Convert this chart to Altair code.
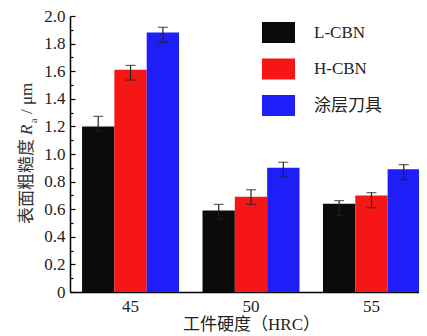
import altair as alt
import pandas as pd

hardness = ["45", "50", "55"]
tools = ["L-CBN", "H-CBN", "涂层刀具"]
l_cbn = [1.20, 0.59, 0.64]
h_cbn = [1.61, 0.69, 0.70]
coated = [1.88, 0.90, 0.89]
l_lo = [1.165, 0.529, 0.556]
l_hi = [1.273, 0.635, 0.662]
h_lo = [1.536, 0.635, 0.611]
h_hi = [1.642, 0.741, 0.720]
c_lo = [1.809, 0.833, 0.814]
c_hi = [1.918, 0.940, 0.923]
colors = ["#0b0b0b", "#f71616", "#1e1ef8"]
y_major = [0.0, 0.2, 0.4, 0.6, 0.8, 1.0, 1.2, 1.4, 1.6, 1.8, 2.0]
y_minor = [0.1, 0.3, 0.5, 0.7, 0.9, 1.1, 1.3, 1.5, 1.7, 1.9]

rows = []
for tool, vals, los, his in [
    (tools[0], l_cbn, l_lo, l_hi),
    (tools[1], h_cbn, h_lo, h_hi),
    (tools[2], coated, c_lo, c_hi),
]:
    for h, v, lo, hi in zip(hardness, vals, los, his):
        rows.append({"hardness": h, "tool": tool, "value": v, "lo": lo, "hi": hi})
df = pd.DataFrame(rows)

SERIF = "Liberation Serif, Noto Sans CJK SC"
W, H = 349, 276

x_enc = alt.X(
    "hardness:N",
    sort=hardness,
    scale=alt.Scale(range=[0, 362], paddingInner=0.195, paddingOuter=0.1),
    axis=alt.Axis(
        title="工件硬度（HRC）",
        labelAngle=0,
        ticks=False,
        tickSize=0,
        domainColor="black",
        domainWidth=1.5,
        labelFont=SERIF,
        labelFontSize=17,
        labelColor="#222",
        labelPadding=6,
        titleFont=SERIF,
        titleFontSize=17,
        titleFontWeight="normal",
        titleColor="#222",
        titlePadding=2,
    ),
)
xo_enc = alt.XOffset("tool:N", sort=tools, scale=alt.Scale(paddingInner=0, paddingOuter=0))

base = alt.Chart(df)

bars = base.mark_bar().encode(
    x=x_enc,
    xOffset=xo_enc,
    y=alt.Y(
        "value:Q",
        scale=alt.Scale(domain=[0, 2], nice=False),
        axis=alt.Axis(
            values=y_major,
            ticks=False,
            tickSize=0,
            grid=False,
            title=None,
            domainColor="black",
            domainWidth=1.5,
            labelFont=SERIF,
            labelFontSize=17,
            labelColor="#222",
            labelPadding=5,
            labelExpr="datum.value == 0 ? '0' : format(datum.value, '.1f')",
        ),
    ),
    color=alt.Color(
        "tool:N",
        sort=tools,
        scale=alt.Scale(domain=tools, range=colors),
        legend=alt.Legend(
            title=None,
            orient="none",
            legendX=192,
            legendY=0,
            symbolType="M-1,-0.64H1V0.64H-1Z",
            symbolSize=1089,
            symbolStrokeWidth=0,
            symbolOpacity=1,
            labelFont=SERIF,
            labelFontSize=17,
            labelColor="#222",
            labelOffset=19,
            rowPadding=8.5,
            padding=0,
        ),
    ),
)

err = base.mark_rule(color="#222", strokeWidth=1.2).encode(
    x=x_enc,
    xOffset=xo_enc,
    y=alt.Y(
        "lo:Q",
        scale=alt.Scale(domain=[0, 2], nice=False),
        axis=alt.Axis(
            orient="right",
            offset=-W,
            values=y_major,
            tickSize=5,
            tickWidth=1.2,
            tickColor="black",
            labels=False,
            domain=False,
            grid=False,
            title=None,
        ),
    ),
    y2="hi:Q",
)

cap_lo = base.mark_tick(color="#222", thickness=1.2, size=10).encode(
    x=x_enc,
    xOffset=xo_enc,
    y=alt.Y(
        "lo:Q",
        scale=alt.Scale(domain=[0, 2], nice=False),
        axis=alt.Axis(
            orient="right",
            offset=-W,
            values=y_minor,
            tickSize=3,
            tickWidth=1.2,
            tickColor="black",
            labels=False,
            domain=False,
            grid=False,
            title=None,
        ),
    ),
)

cap_hi = base.mark_tick(color="#222", thickness=1.2, size=10).encode(
    x=x_enc,
    xOffset=xo_enc,
    y=alt.Y("hi:Q", scale=alt.Scale(domain=[0, 2], nice=False), axis=None),
)

blank = alt.Data(values=[{}])
t1 = alt.Chart(blank).mark_text(
    x=-38, y=208, angle=270, align="left", baseline="alphabetic",
    font=SERIF, fontSize=17, color="#333",
).encode(text=alt.value("表面粗糙度"))
t2 = alt.Chart(blank).mark_text(
    x=-38, y=119, angle=270, align="left", baseline="alphabetic",
    font="Liberation Serif", fontSize=17, fontStyle="italic", color="#333",
).encode(text=alt.value("R"))
t3 = alt.Chart(blank).mark_text(
    x=-33, y=107, angle=270, align="left", baseline="alphabetic",
    font="Liberation Serif", fontSize=10, color="#333",
).encode(text=alt.value("a"))
t4 = alt.Chart(blank).mark_text(
    x=-38, y=98, angle=270, align="left", baseline="alphabetic",
    font="Liberation Serif", fontSize=17, color="#333",
).encode(text=alt.value("/ μm"))

chart = (
    alt.layer(bars, err, cap_lo, cap_hi, t1, t2, t3, t4)
    .resolve_axis(y="independent")
    .properties(
        width=W,
        height=H,
        autosize=alt.AutoSizeParams(type="none"),
        padding={"left": 62, "top": 8, "right": 0, "bottom": 44},
    )
    .configure_view(stroke=None)
    .configure_axis(grid=False)
)

chart.save("out.html", embed_options={"renderer": "svg", "actions": False})
